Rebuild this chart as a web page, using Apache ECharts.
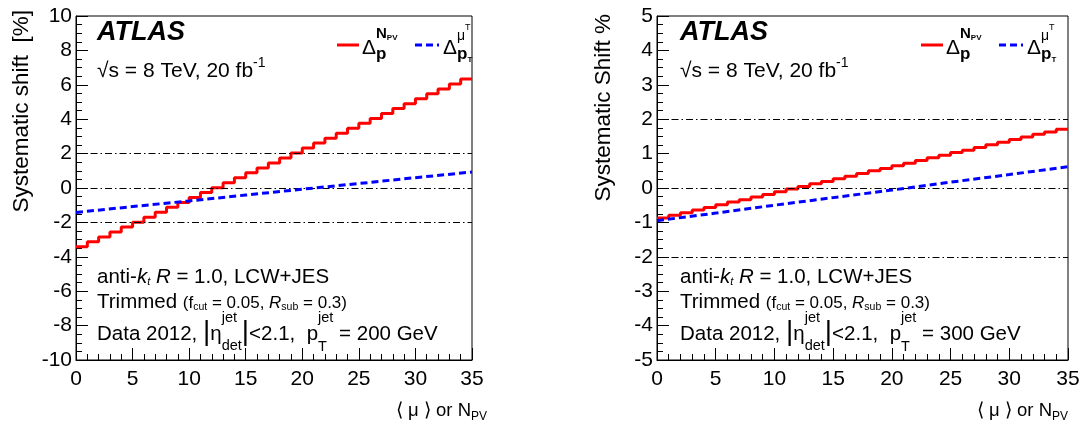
<!DOCTYPE html>
<html><head><meta charset="utf-8">
<script src="https://cdn.jsdelivr.net/npm/echarts@6/dist/echarts.min.js"></script>
<style>html,body{margin:0;padding:0;background:#fff}#c{width:1084px;height:429px}</style>
</head><body><div id="c"></div>
<script>
// ---------- data ----------
const binLowEdges = [0,1,2,3,4,5,6,7,8,9,10,11,12,13,14,15,16,17,18,19,20,21,22,23,24,25,26,27,28,29,30,31,32,33,34];
const xUpper = 35;
const leftNpv = [-3.42,-3.13,-2.85,-2.56,-2.27,-1.99,-1.70,-1.41,-1.12,-0.84,-0.55,-0.26,0.02,0.31,0.60,0.89,1.17,1.46,1.75,2.03,2.32,2.61,2.89,3.18,3.47,3.76,4.04,4.33,4.62,4.90,5.19,5.48,5.76,6.05,6.34];
const rightNpv = [-0.87,-0.79,-0.72,-0.64,-0.57,-0.49,-0.41,-0.34,-0.26,-0.19,-0.11,-0.03,0.04,0.12,0.19,0.27,0.34,0.42,0.50,0.57,0.65,0.72,0.80,0.88,0.95,1.03,1.10,1.18,1.26,1.33,1.41,1.48,1.56,1.63,1.71];
const muX = [0,5,10,15,20,25,30,35];
const leftMu = [-1.42,-1.08,-0.75,-0.41,-0.07,0.26,0.60,0.93];
const rightMu = [-0.95,-0.73,-0.50,-0.28,-0.06,0.17,0.39,0.62];
const refLevels = [-2, 0, 2];
const leftPt = '200';
const rightPt = '300';

// ---------- helpers ----------
const F = '"Liberation Sans", Arial, Helvetica, sans-serif';
const cv = document.createElement('canvas').getContext('2d');
function fontStr(tk){ return (tk.i?'italic ':'')+(tk.b?'bold ':'')+tk.s+'px '+F; }
function measure(tk){ cv.font = fontStr(tk); return cv.measureText(tk.t).width; }
function txt(x,y,tk){
  return {type:'text', x:x, y:y+(tk.dy||0), silent:true, z:100,
    style:{text:tk.t, fontSize:tk.s, fontFamily:F, fontWeight:tk.b?'bold':'normal',
      fontStyle:tk.i?'italic':'normal', fill:'#000', align:'left', verticalAlign:'middle',
      textAlign:'left', textVerticalAlign:'middle'}};
}
function seq(x, y, tokens, out){
  for (const tk of tokens){
    if (tk.stack){
      let w = 0;
      for (const sub of tk.stack){
        let xx = x;
        for (const t of sub){ if(out) out.push(txt(xx,y,t)); xx += measure(t); }
        w = Math.max(w, xx-x);
      }
      x += w;
    } else { if(out) out.push(txt(x,y,tk)); x += measure(tk); }
  }
  return x;
}
function stepData(vals){
  const d = binLowEdges.map((x,i)=>[x, vals[i]]);
  d.push([xUpper, vals[vals.length-1]]);
  return d;
}

const G = [];
function panelText(bx, legRed, legBlue, pt, xTitleEnd, yTitle, yTitleX, yTitleTop){
  seq(bx, 33, [{t:'ATLAS', s:27, b:true, i:true}], G);
  seq(bx, 71, [{t:'√s = 8 TeV, 20 fb', s:21},{t:'-1', s:14, dy:-8}], G);
  // legend
  G.push({type:'line', silent:true, z:100, shape:{x1:legRed, y1:45, x2:legRed+22, y2:45}, style:{stroke:'#ff0000', lineWidth:3}});
  seq(legRed+25, 48, [{t:'Δ', s:21},{stack:[[{t:'N', s:15, b:true, dy:-14},{t:'PV', s:8, b:true, dy:-10}],[{t:'p', s:17, b:true, dy:6}]]}], G);
  G.push({type:'line', silent:true, z:100, shape:{x1:legBlue, y1:45, x2:legBlue+24, y2:45}, style:{stroke:'#0000ff', lineWidth:3, lineDash:[7,4]}});
  seq(legBlue+28, 48, [{t:'Δ', s:21},{stack:[[{t:'μ', s:14, dy:-12},{t:'T', s:9, dy:-20}],[{t:'p', s:17, b:true, dy:6},{t:'T', s:8, b:true, dy:12}]]}], G);
  // bottom lines
  seq(bx, 277, [{t:'anti-', s:20.5},{t:'k', s:20.5, i:true},{t:'t', s:11, i:true, dy:5},{t:' ', s:20.5},{t:'R', s:20.5, i:true},{t:' = 1.0, LCW+JES', s:20.5}], G);
  seq(bx, 302, [{t:'Trimmed ', s:20.5},{t:'(f', s:17, dy:1},{t:'cut', s:10.5, dy:5},{t:' = 0.05, ', s:17, dy:1},{t:'R', s:17, i:true, dy:1},{t:'sub', s:10.5, dy:5},{t:' = 0.3)', s:17, dy:1}], G);
  seq(bx, 334, [{t:'Data 2012, ', s:20.5},{t:'|', s:28, dy:-2},{t:'η', s:20.5},
    {stack:[[{t:'jet', s:14.5, dy:-16}],[{t:'det', s:14.5, dy:12}]]},{t:'|', s:28, dy:-2},
    {t:'<2.1,  ', s:20.5},{t:'p', s:20.5},{stack:[[{t:'jet', s:14.5, dy:-16}],[{t:'T', s:14.5, dy:13}]]},
    {t:' = '+pt+' GeV', s:20.5}], G);
  // x title (right aligned)
  const xt = [{t:'⟨ μ ⟩ or N', s:18.5},{t:'PV', s:12, dy:6}];
  const w = seq(0, 0, xt, null);
  seq(xTitleEnd - w, 411, xt, G);
  // y title
  G.push({type:'text', x:yTitleX, y:yTitleTop, rotation:Math.PI/2, silent:true, z:100,
    style:{text:yTitle, fontSize:22.5, fontFamily:F, fill:'#000', align:'right', verticalAlign:'middle', textAlign:'right', textVerticalAlign:'middle'}});
}
panelText(97, 337, 415, leftPt, 487, 'Systematic shift  [%]', 22, 10);
panelText(680, 921, 999, rightPt, 1068, 'Systematic Shift %', 604, 14);

function xAx(gi){
  return {gridIndex:gi, type:'value', min:0, max:35, interval:5,
    axisLine:{show:true, onZero:false, lineStyle:{color:'#000', width:1}},
    axisTick:{show:true, inside:true, length:12, lineStyle:{color:'#000', width:1}},
    minorTick:{show:true, splitNumber:5, length:6, lineStyle:{color:'#000', width:1}},
    axisLabel:{fontSize:21, color:'#000', fontFamily:F, margin:9},
    splitLine:{show:false}, minorSplitLine:{show:false}};
}
function yAx(gi, mn, mx, iv){
  return {gridIndex:gi, type:'value', min:mn, max:mx, interval:iv,
    axisLine:{show:true, onZero:false, lineStyle:{color:'#000', width:1}},
    axisTick:{show:true, inside:true, length:12, lineStyle:{color:'#000', width:1}},
    minorTick:{show:true, splitNumber:4, length:6, lineStyle:{color:'#000', width:1}},
    axisLabel:{fontSize:21, color:'#000', fontFamily:F, margin:4},
    splitLine:{show:false}, minorSplitLine:{show:false}};
}
function refMark(){
  return {silent:true, symbol:['none','none'], label:{show:false},
    lineStyle:{color:'#000', width:1, type:[7,3,1.5,3]},
    data: refLevels.map(v=>({yAxis:v}))};
}
function series(gi, npv, mu){
  return [
    {type:'line', xAxisIndex:gi, yAxisIndex:gi, step:'end', data:stepData(npv), symbol:'none',
      lineStyle:{color:'#ff0000', width:3}, z:4, markLine:refMark()},
    {type:'line', xAxisIndex:gi, yAxisIndex:gi, data:muX.map((x,i)=>[x, mu[i]]), symbol:'none',
      lineStyle:{color:'#0000ff', width:3, type:[7,4]}, z:5}
  ];
}

const chart = echarts.init(document.getElementById('c'), null, {renderer:'canvas'});
chart.setOption({
  animation:false,
  backgroundColor:'#fff',
  grid:[
    {left:76, top:16, width:396, height:344, show:true, borderColor:'#000', borderWidth:1, backgroundColor:'transparent'},
    {left:657, top:16, width:411, height:344, show:true, borderColor:'#000', borderWidth:1, backgroundColor:'transparent'}
  ],
  xAxis:[xAx(0), xAx(1)],
  yAxis:[yAx(0,-10,10,2), yAx(1,-5,5,1)],
  series:[...series(0, leftNpv, leftMu), ...series(1, rightNpv, rightMu)],
  graphic:G
});
</script></body></html>
